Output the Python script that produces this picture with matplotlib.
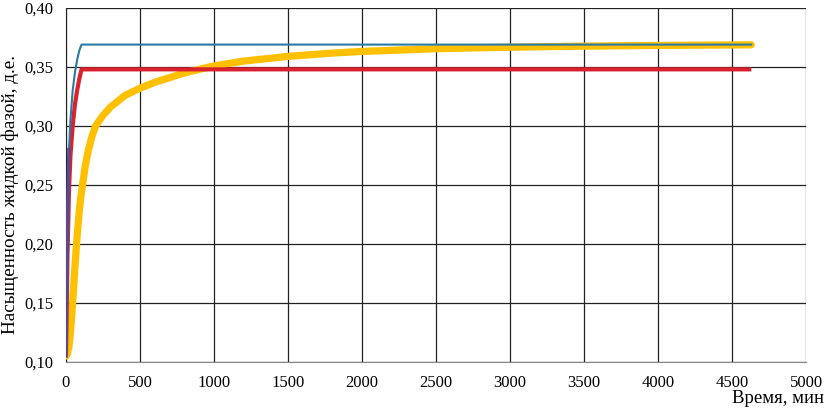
import matplotlib
matplotlib.use("Agg")
import matplotlib.pyplot as plt
from matplotlib.ticker import FuncFormatter

# Data (time in minutes, saturation in fractions)
t_yellow = [0, 10, 20, 30, 40, 50, 60, 70, 80, 90, 100, 115, 130, 150, 175, 200, 250, 300, 350, 400, 500,
            600, 700, 800, 900, 1000, 1200, 1500, 1800, 2000, 2500, 3000, 3500, 4000, 4630]
s_yellow = [0.105, 0.107, 0.113, 0.125, 0.142, 0.16, 0.18, 0.198, 0.214, 0.228, 0.24, 0.253, 0.266, 0.279,
            0.291, 0.30, 0.309, 0.316, 0.321, 0.326, 0.332, 0.337, 0.341, 0.345, 0.348, 0.351, 0.355, 0.359,
            0.3618, 0.3632, 0.3655, 0.3668, 0.3677, 0.3683, 0.3688]

t_blue = [0, 10, 20, 30, 45, 60, 75, 90, 105, 4630]
s_blue = [0.105, 0.22, 0.28, 0.305, 0.33, 0.345, 0.356, 0.364, 0.369, 0.369]

t_red = [0, 10, 20, 30, 45, 60, 75, 90, 105, 4630]
s_red = [0.105, 0.19, 0.245, 0.275, 0.30, 0.318, 0.33, 0.34, 0.348, 0.348]

t_purple = [0, 5, 10, 15, 20]
s_purple = [0.105, 0.16, 0.21, 0.25, 0.28]

x_ticks = [0, 500, 1000, 1500, 2000, 2500, 3000, 3500, 4000, 4500, 5000]
y_ticks = [0.10, 0.15, 0.20, 0.25, 0.30, 0.35, 0.40]

plt.rcParams['font.family'] = ['Liberation Serif', 'DejaVu Serif']

fig = plt.figure(figsize=(8.26, 4.15), dpi=100)
ax = fig.add_axes([0.0799, 0.1277, 0.8959, 0.853])

ax.plot(t_yellow, s_yellow, color='#ffc000', lw=5.2, solid_capstyle='round', zorder=3)
ax.plot(t_red, s_red, color='#d9222e', lw=3.0, solid_capstyle='butt', zorder=4)
ax.plot(t_blue, s_blue, color='#2a7aa6', lw=1.5, zorder=5)
ax.plot(t_purple, s_purple, color='#5a4a8c', lw=2.5, zorder=6)

ax.set_xlim(0, 5000)
ax.set_ylim(0.10, 0.40)
ax.set_xticks(x_ticks)
ax.set_yticks(y_ticks)
ax.yaxis.set_major_formatter(FuncFormatter(lambda v, p: f"{v:.2f}".replace('.', ',')))
ax.xaxis.set_major_formatter(FuncFormatter(lambda v, p: f"{int(v)}"))

ax.grid(True, color='#222222', lw=0.9, zorder=0)
ax.set_axisbelow(True)
for s in ['top', 'right']:
    ax.spines[s].set_visible(False)
ax.spines['bottom'].set_color('#888888')
ax.spines['left'].set_color('#222222')
ax.tick_params(length=0, labelsize=12, colors='black')
ax.tick_params(axis='x', pad=9)
ax.tick_params(axis='y', pad=9)

fig.text(0.0127, 0.5313, 'Насыщенность жидкой фазой, д.е.', rotation=90,
         ha='center', va='center', fontsize=13.8)
fig.text(0.998, 0.040, 'Время, мин', ha='right', va='center', fontsize=13.5)

fig.savefig('out.png', dpi=100)
